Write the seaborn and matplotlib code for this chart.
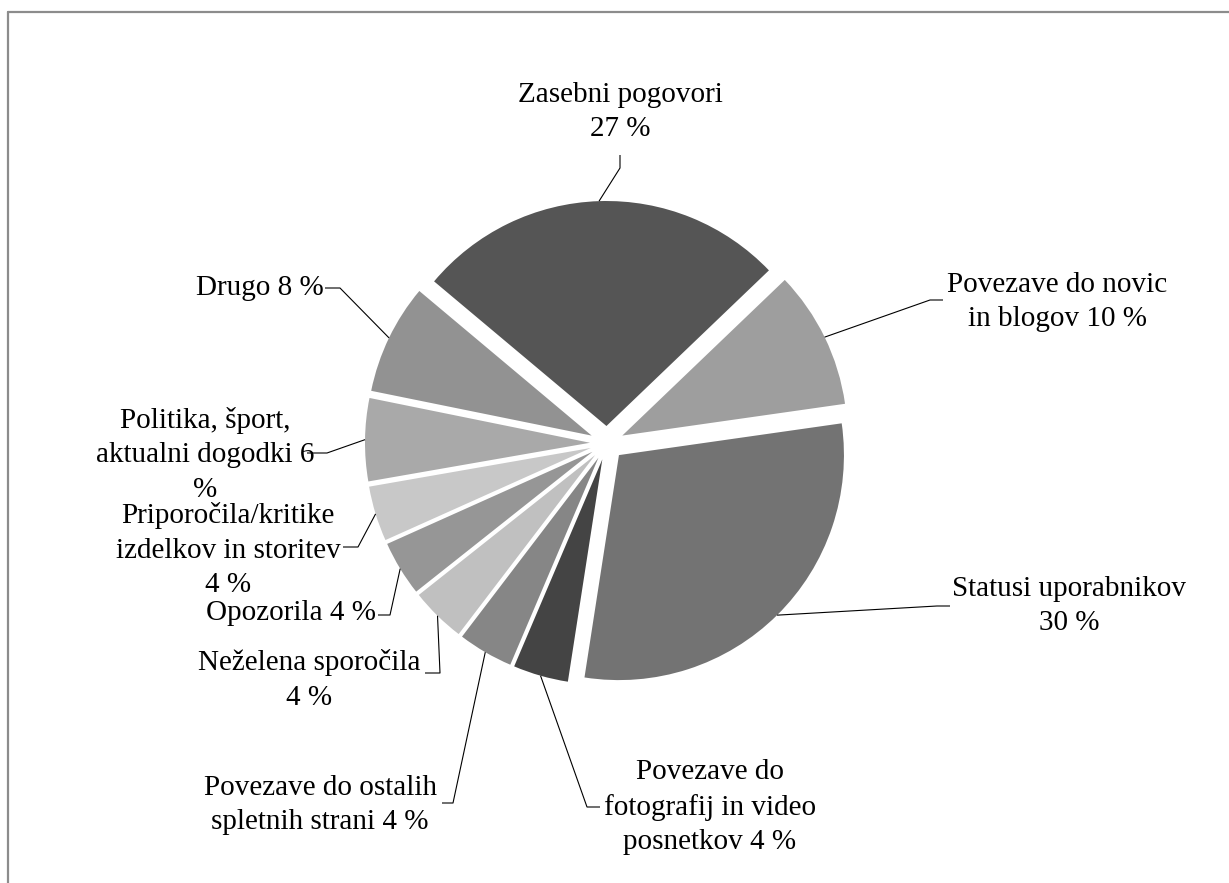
import numpy as np
import matplotlib
matplotlib.use("Agg")
import matplotlib.pyplot as plt
import seaborn as sns

# Share of content types (percent), clockwise from the top
categories = [
    "Zasebni pogovori",
    "Povezave do novic in blogov",
    "Statusi uporabnikov",
    "Povezave do fotografij in video posnetkov",
    "Povezave do ostalih spletnih strani",
    "Neželena sporočila",
    "Opozorila",
    "Priporočila/kritike izdelkov in storitev",
    "Politika, šport, aktualni dogodki",
    "Drugo",
]
values = [27, 10, 30, 4, 4, 4, 4, 4, 6, 8]
label_texts = [
    "Zasebni pogovori\n27 %",
    "Povezave do novic\nin blogov 10 %",
    "Statusi uporabnikov\n30 %",
    "Povezave do\nfotografij in video\nposnetkov 4 %",
    "Povezave do ostalih\nspletnih strani 4 %",
    "Neželena sporočila\n4 %",
    "Opozorila 4 %",
    "Priporočila/kritike\nizdelkov in storitev\n4 %",
    "Politika, šport,\naktualni dogodki 6\n%",
    "Drugo 8 %",
]
grays = ["#555555", "#9e9e9e", "#737373", "#444444", "#868686",
         "#c0c0c0", "#969696", "#c8c8c8", "#a9a9a9", "#929292"]

W, H = 1229, 883

# label placement in pixel coordinates (y measured from the top)
text_pos = [(620, 112), (1057, 302), (1069, 606), (710, 807), (320, 805),
            (309, 680), (291, 613), (228, 550), (205, 455), (260, 288)]
leader_elbow = [(620, 168), (930, 300), (937, 606), (587, 807), (453, 803),
                (440, 673), (390, 615), (358, 547), (327, 453), (340, 288)]
leader_end = [(620, 155), (943, 300), (950, 606), (600, 807), (442, 803),
              (425, 673), (378, 615), (343, 547), (307, 453), (325, 288)]

sns.set_theme(style="white")
plt.rcParams["font.family"] = ["Liberation Serif", "DejaVu Serif"]

fig = plt.figure(figsize=(W / 100, H / 100), dpi=100)
fig.patch.set_facecolor("white")
ax = fig.add_axes([0, 0, 1, 1])

palette = sns.color_palette(grays)
radius = 225
gap = 17  # offset of every slice from the centre, in data units
wedges, _ = ax.pie(
    values,
    colors=palette,
    startangle=140,
    counterclock=False,
    explode=[gap] * len(values),
    radius=radius,
    center=(607, H - 443),
    wedgeprops=dict(linewidth=0),
)
ax.set_xlim(0, W)
ax.set_ylim(0, H)
ax.set_aspect("auto")
ax.axis("off")

for w, txt, tp, el, en in zip(wedges, label_texts, text_pos, leader_elbow, leader_end):
    mid = np.deg2rad((w.theta1 + w.theta2) / 2)
    cx, cy = w.center
    ax_pt = (cx + w.r * np.cos(mid), cy + w.r * np.sin(mid))
    xs = [ax_pt[0], el[0], en[0]]
    ys = [ax_pt[1], H - el[1], H - en[1]]
    ax.plot(xs, ys, color="black", linewidth=0.8, solid_capstyle="butt")
    ax.text(tp[0], H - tp[1], txt, ha="center", va="center",
            multialignment="center", fontsize=21, color="black",
            linespacing=1.42)

# outer frame (top and left edges)
ax.plot([8, 8], [0, H - 12], color="#8c8c8c", linewidth=1.6, clip_on=False)
ax.plot([8, W], [H - 12, H - 12], color="#8c8c8c", linewidth=1.6, clip_on=False)

fig.savefig("out.png", dpi=100, facecolor="white")
